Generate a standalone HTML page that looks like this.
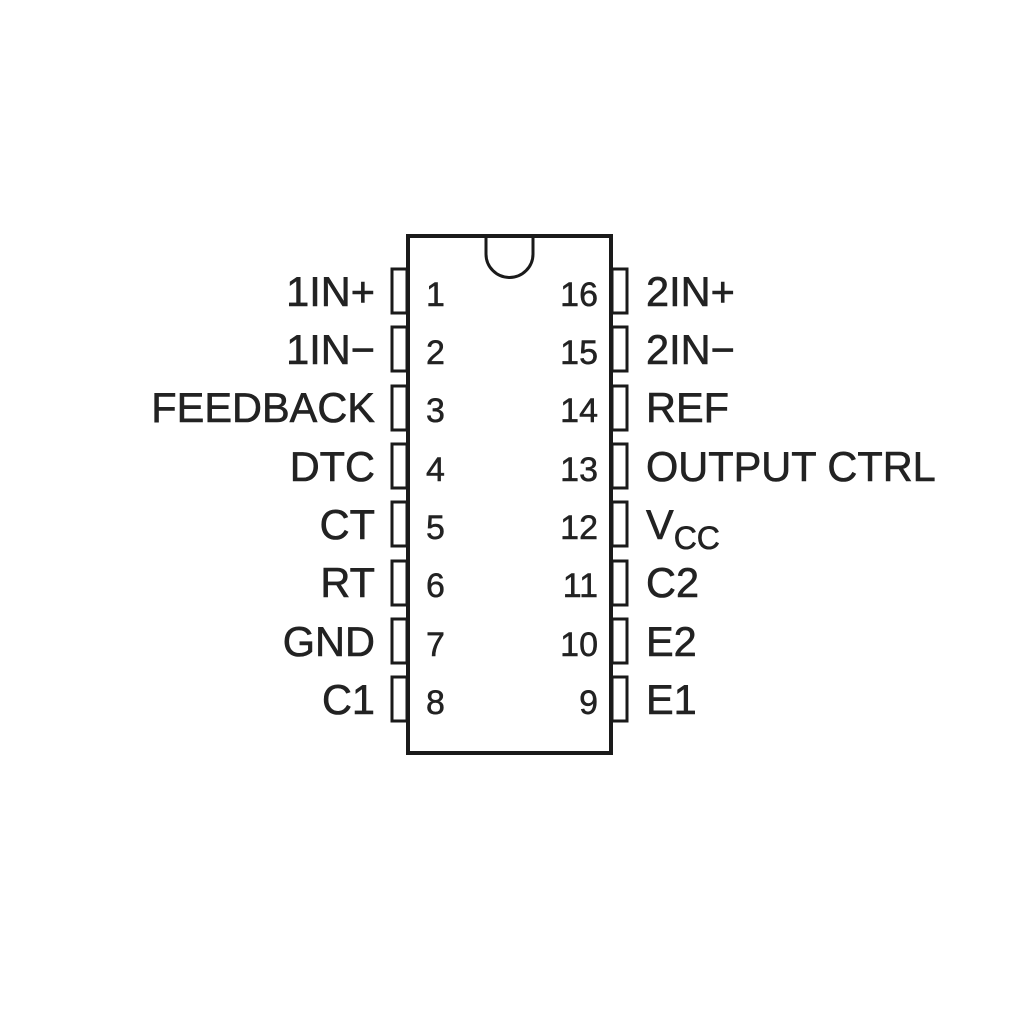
<!DOCTYPE html>
<html><head><style>html,body{margin:0;padding:0;background:#fff;}svg{display:block}</style></head>
<body>
<svg width="1024" height="1024" viewBox="0 0 1024 1024" xmlns="http://www.w3.org/2000/svg" font-family="Liberation Sans, Arial, sans-serif" fill="#222">
<g fill="none" stroke="#1a1a1a" stroke-width="4">
<rect x="408" y="236" width="203" height="517"/>
<path d="M486 236 V254 A23.5 23.5 0 0 0 533 254 V236" stroke-width="3"/>
</g>
<g fill="none" stroke="#1a1a1a" stroke-width="3">
<rect x="392" y="269" width="15" height="44"/>
<rect x="392" y="327" width="15" height="44"/>
<rect x="392" y="386" width="15" height="44"/>
<rect x="392" y="444" width="15" height="44"/>
<rect x="392" y="502" width="15" height="44"/>
<rect x="392" y="561" width="15" height="44"/>
<rect x="392" y="619" width="15" height="44"/>
<rect x="392" y="677" width="15" height="44"/>
<rect x="612" y="269" width="15" height="44"/>
<rect x="612" y="327" width="15" height="44"/>
<rect x="612" y="386" width="15" height="44"/>
<rect x="612" y="444" width="15" height="44"/>
<rect x="612" y="502" width="15" height="44"/>
<rect x="612" y="561" width="15" height="44"/>
<rect x="612" y="619" width="15" height="44"/>
<rect x="612" y="677" width="15" height="44"/>
</g>
<g font-size="41.5" text-anchor="end" stroke="#222" stroke-width="0.6">
<text x="375" y="306">1IN+</text>
<text x="375" y="364">1IN−</text>
<text x="375" y="422">FEEDBACK</text>
<text x="375" y="481">DTC</text>
<text x="375" y="539">CT</text>
<text x="375" y="597">RT</text>
<text x="375" y="656">GND</text>
<text x="375" y="714">C1</text>
</g>
<g font-size="34" stroke="#222" stroke-width="0.5">
<text x="426" y="306">1</text>
<text x="426" y="364">2</text>
<text x="426" y="422">3</text>
<text x="426" y="481">4</text>
<text x="426" y="539">5</text>
<text x="426" y="597">6</text>
<text x="426" y="656">7</text>
<text x="426" y="714">8</text>
</g>
<g font-size="34" text-anchor="end" stroke="#222" stroke-width="0.5">
<text x="598" y="306">16</text>
<text x="598" y="364">15</text>
<text x="598" y="422">14</text>
<text x="598" y="481">13</text>
<text x="598" y="539">12</text>
<text x="598" y="597">11</text>
<text x="598" y="656">10</text>
<text x="598" y="714">9</text>
</g>
<g font-size="41.5" stroke="#222" stroke-width="0.6">
<text x="646" y="306">2IN+</text>
<text x="646" y="364">2IN−</text>
<text x="646" y="422">REF</text>
<text x="646" y="481">OUTPUT CTRL</text>
<text x="646" y="539">V<tspan font-size="32" dy="10">CC</tspan></text>
<text x="646" y="597">C2</text>
<text x="646" y="656">E2</text>
<text x="646" y="714">E1</text>
</g>
</svg>
</body></html>
